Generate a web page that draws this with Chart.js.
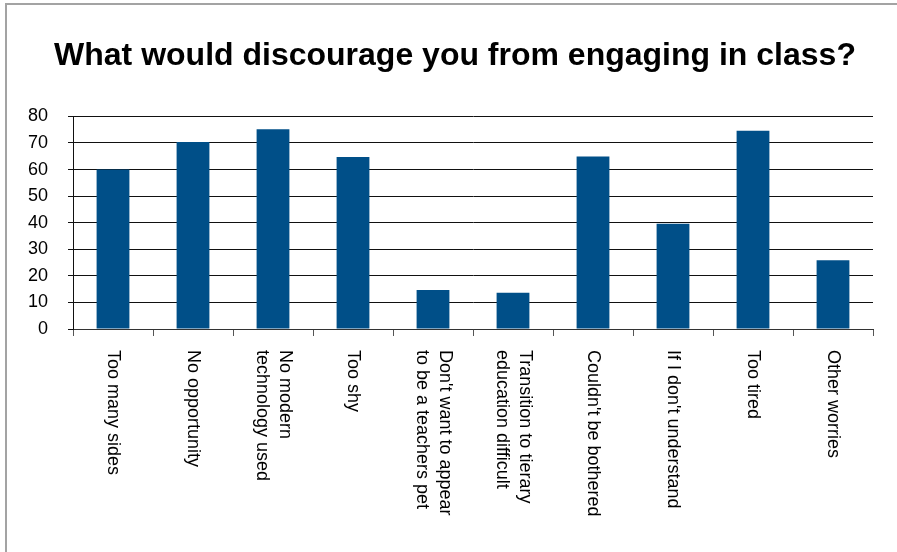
<!DOCTYPE html>
<html>
<head>
<meta charset="utf-8">
<title>What would discourage you from engaging in class?</title>
<script src="https://cdn.jsdelivr.net/npm/chart.js@4"></script>
<style>
  html, body { margin: 0; padding: 0; background: #fff; overflow: hidden; }
  #frame {
    position: absolute; left: 5px; top: 3px; width: 920px; height: 580px;
    border: 2px solid #a3a3a3;
  }
  #chart { position: absolute; left: 0; top: 0; }
</style>
</head>
<body>
<div id="frame"></div>
<canvas id="chart" width="897" height="552"></canvas>
<script>
const titleText = "What would discourage you from engaging in class?";

// multi-line labels are written as arrays, one entry per line
const categories = [
  "Too many sides",
  "No opportunity",
  ["No modern", "technology used"],
  "Too shy",
  ["Don't want to appear", "to be a teachers pet"],
  ["Transition to tierary", "education difficult"],
  "Couldn't be bothered",
  "If I don't understand",
  "Too tired",
  "Other worries"
];
const responses = [60, 70.4, 75.2, 64.7, 14.7, 13.6, 64.9, 39.6, 74.6, 25.9];
const yTicks = [0, 10, 20, 30, 40, 50, 60, 70, 80];

const FONT = '"Liberation Sans", Arial, Helvetica, sans-serif';
Chart.defaults.font.family = FONT;
Chart.defaults.color = "#000";

// category labels run top-to-bottom, which the built-in ticks can't do
const verticalLabels = {
  id: "verticalLabels",
  afterLayout(chart) {
    // y labels hang past the narrow axis box; widen it so they aren't clipped
    chart.scales.y.left = 0;
  },
  afterDraw(chart) {
    const xs = chart.scales.x;
    const ctx = chart.ctx;
    const lineH = 23;
    ctx.save();
    ctx.font = "18px " + FONT;
    ctx.fillStyle = "#000";
    ctx.textAlign = "left";
    ctx.textBaseline = "middle";
    categories.forEach((lab, i) => {
      const lines = Array.isArray(lab) ? lab : [lab];
      ctx.save();
      ctx.translate(xs.getPixelForValue(i), xs.top + 21);
      ctx.rotate(Math.PI / 2);
      lines.forEach((line, j) => {
        ctx.fillText(line, 0, (j - (lines.length - 1) / 2) * lineH);
      });
      ctx.restore();
    });
    ctx.restore();
  }
};

new Chart(document.getElementById("chart"), {
  type: "bar",
  data: {
    labels: categories.map(c => Array.isArray(c) ? c.join(" ") : c),
    datasets: [{
      data: responses,
      backgroundColor: "#004f88",
      borderWidth: 0,
      barPercentage: 0.41,
      categoryPercentage: 1
    }]
  },
  options: {
    responsive: false,
    animation: false,
    layout: { padding: { left: 37, right: 24, top: 0, bottom: 0 } },
    plugins: {
      legend: { display: false },
      tooltip: { enabled: false },
      title: {
        display: true,
        text: titleText,
        color: "#000",
        font: { size: 32, weight: "bold", family: FONT },
        padding: { top: 37, bottom: 41 }
      }
    },
    scales: {
      x: {
        ticks: { display: false },
        grid: {
          offset: true,
          drawOnChartArea: false,
          drawTicks: true,
          tickLength: 7,
          color: "#555"
        },
        border: { color: "#333" },
        afterFit(scale) { scale.height = 223; }
      },
      y: {
        min: yTicks[0],
        max: yTicks[yTicks.length - 1],
        ticks: {
          stepSize: yTicks[1] - yTicks[0],
          font: { size: 18, family: FONT },
          color: "#000",
          padding: 20
        },
        grid: { color: "#111", tickLength: 5 },
        border: { color: "#111" },
        afterFit(scale) { scale.width = 36; }
      }
    }
  },
  plugins: [verticalLabels]
});
</script>
</body>
</html>
